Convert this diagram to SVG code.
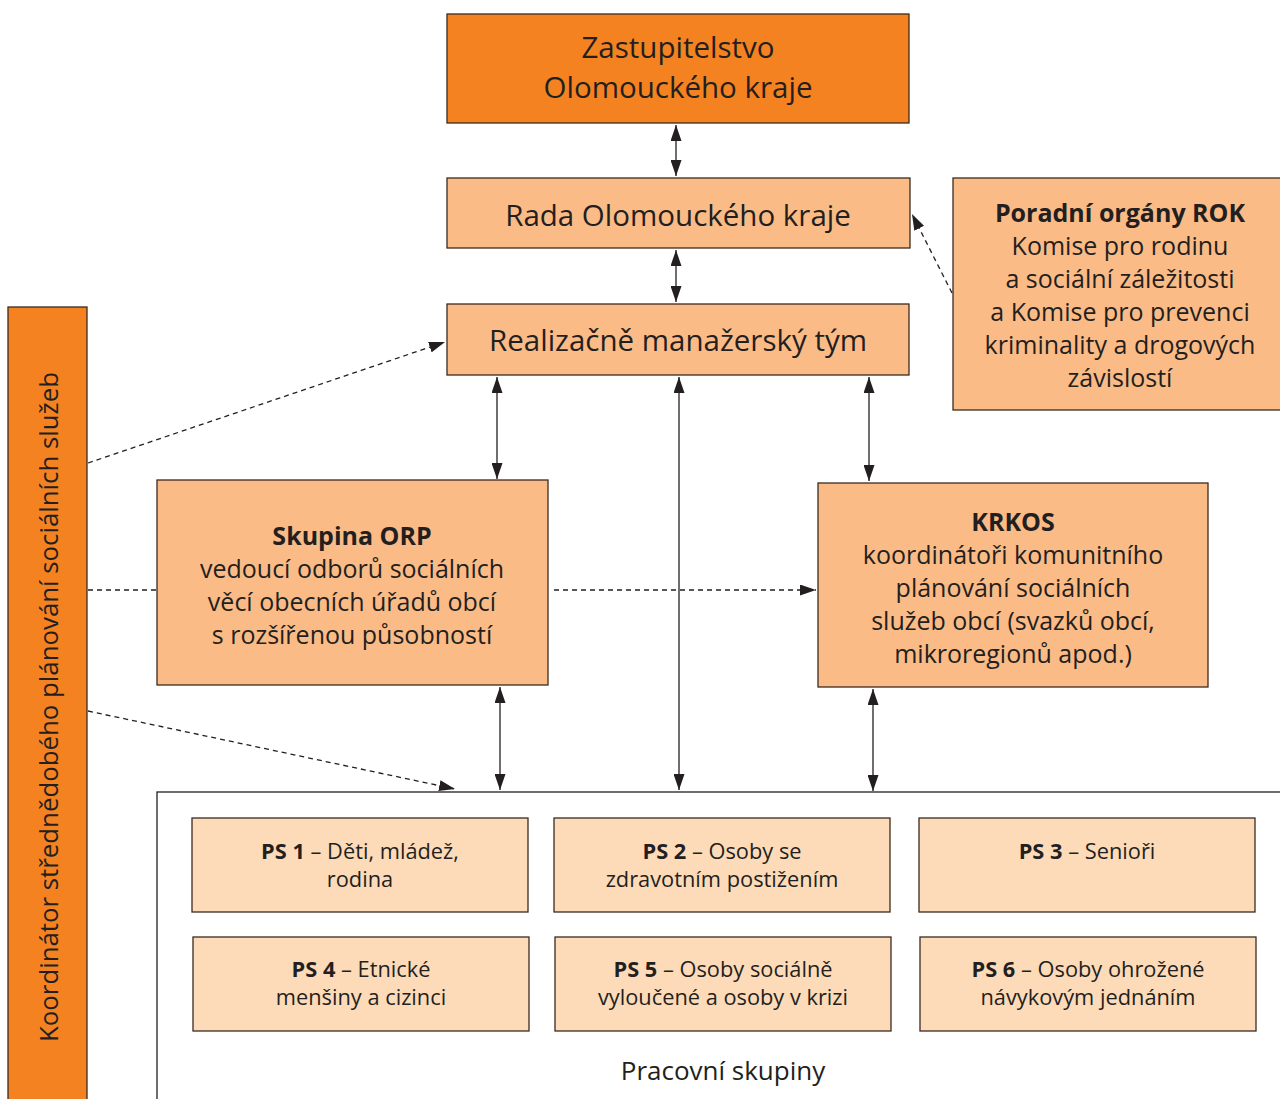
<svg xmlns="http://www.w3.org/2000/svg" width="1280" height="1099" viewBox="0 0 1280 1099">
<defs>
<marker id="ahl" viewBox="0 0 16 11" refX="16" refY="5.5" markerWidth="16" markerHeight="11" markerUnits="userSpaceOnUse" orient="auto-start-reverse">
<path d="M0,0 L16,5.5 L0,11 z" fill="#231f20"/>
</marker>
</defs>
<style>
.dark{fill:#f58220;stroke:#3b2b20;stroke-width:1.3}
.mid{fill:#fbbb86;stroke:#3b2b20;stroke-width:1.3}
.light{fill:#fddbb9;stroke:#3b2b20;stroke-width:1.3}
.frame{fill:#fff;stroke:#231f20;stroke-width:1.3}
text{font-family:"Open Sans","Liberation Sans",sans-serif;fill:#231f20;text-anchor:middle}
.big{font-size:29.5px}
.med{font-size:25px}
.side{font-size:25.8px}
.cap{font-size:26px}
.sm{font-size:21.8px}
.b{font-weight:bold}
.c{fill:none;stroke:#231f20;stroke-width:1.3}
.d{fill:none;stroke:#231f20;stroke-width:1.3;stroke-dasharray:5 4}
</style>
<g id="pracovni-skupiny">
<rect class="frame" x="157" y="792" width="1140" height="320"/>
<text class="cap" x="723" y="1080">Pracovní skupiny</text>
</g>
<g id="zastupitelstvo">
<rect class="dark" x="447" y="14" width="462" height="109"/>
<text class="big" x="678" y="58">Zastupitelstvo</text>
<text class="big" x="678" y="98">Olomouckého kraje</text>
</g>
<g id="rada">
<rect class="mid" x="447" y="178" width="463" height="70"/>
<text class="big" x="678" y="226">Rada Olomouckého kraje</text>
</g>
<g id="realizacne">
<rect class="mid" x="447" y="304" width="462" height="71"/>
<text class="big" x="678" y="351">Realizačně manažerský tým</text>
</g>
<g id="poradni">
<rect class="mid" x="953" y="178" width="340" height="232"/>
<text class="med" x="1120" y="222"><tspan class="b">Poradní orgány ROK</tspan></text>
<text class="med" x="1120" y="255">Komise pro rodinu</text>
<text class="med" x="1120" y="288">a sociální záležitosti</text>
<text class="med" x="1120" y="321">a Komise pro prevenci</text>
<text class="med" x="1120" y="354">kriminality a drogových</text>
<text class="med" x="1120" y="387">závislostí</text>
</g>
<g id="koordinator">
<rect class="dark" x="8" y="307" width="79" height="810"/>
<text class="side" transform="translate(58,707) rotate(-90)" x="0" y="0">Koordinátor střednědobého plánování sociálních služeb</text>
</g>
<g id="skupina-orp">
<rect class="mid" x="157" y="480" width="391" height="205"/>
<text class="med" x="352" y="545"><tspan class="b">Skupina ORP</tspan></text>
<text class="med" x="352" y="578">vedoucí odborů sociálních</text>
<text class="med" x="352" y="611">věcí obecních úřadů obcí</text>
<text class="med" x="352" y="644">s rozšířenou působností</text>
</g>
<g id="krkos">
<rect class="mid" x="818" y="483" width="390" height="204"/>
<text class="med" x="1013" y="531"><tspan class="b">KRKOS</tspan></text>
<text class="med" x="1013" y="564">koordinátoři komunitního</text>
<text class="med" x="1013" y="597">plánování sociálních</text>
<text class="med" x="1013" y="630">služeb obcí (svazků obcí,</text>
<text class="med" x="1013" y="663">mikroregionů apod.)</text>
</g>
<g id="ps1">
<rect class="light" x="192" y="818" width="336" height="94"/>
<text class="sm" x="360" y="859"><tspan class="b">PS 1</tspan> – Děti, mládež,</text>
<text class="sm" x="360" y="887">rodina</text>
</g>
<g id="ps2">
<rect class="light" x="554" y="818" width="336" height="94"/>
<text class="sm" x="722" y="859"><tspan class="b">PS 2</tspan> – Osoby se</text>
<text class="sm" x="722" y="887">zdravotním postižením</text>
</g>
<g id="ps3">
<rect class="light" x="919" y="818" width="336" height="94"/>
<text class="sm" x="1087" y="859"><tspan class="b">PS 3</tspan> – Senioři</text>
</g>
<g id="ps4">
<rect class="light" x="193" y="937" width="336" height="94"/>
<text class="sm" x="361" y="977"><tspan class="b">PS 4</tspan> – Etnické</text>
<text class="sm" x="361" y="1005">menšiny a cizinci</text>
</g>
<g id="ps5">
<rect class="light" x="555" y="937" width="336" height="94"/>
<text class="sm" x="723" y="977"><tspan class="b">PS 5</tspan> – Osoby sociálně</text>
<text class="sm" x="723" y="1005">vyloučené a osoby v krizi</text>
</g>
<g id="ps6">
<rect class="light" x="920" y="937" width="336" height="94"/>
<text class="sm" x="1088" y="977"><tspan class="b">PS 6</tspan> – Osoby ohrožené</text>
<text class="sm" x="1088" y="1005">návykovým jednáním</text>
</g>
<g id="connectors">
<line class="c" x1="676" y1="125" x2="676" y2="176" marker-start="url(#ahl)" marker-end="url(#ahl)"/>
<line class="c" x1="676" y1="250" x2="676" y2="302" marker-start="url(#ahl)" marker-end="url(#ahl)"/>
<line class="c" x1="497" y1="377" x2="497" y2="479" marker-start="url(#ahl)" marker-end="url(#ahl)"/>
<line class="c" x1="679" y1="377" x2="679" y2="790" marker-start="url(#ahl)" marker-end="url(#ahl)"/>
<line class="c" x1="869" y1="377" x2="869" y2="481" marker-start="url(#ahl)" marker-end="url(#ahl)"/>
<line class="c" x1="500" y1="687" x2="500" y2="790" marker-start="url(#ahl)" marker-end="url(#ahl)"/>
<line class="c" x1="873" y1="689" x2="873" y2="791" marker-start="url(#ahl)" marker-end="url(#ahl)"/>
<line class="d" x1="88" y1="463" x2="445" y2="342" marker-end="url(#ahl)"/>
<line class="d" x1="88" y1="590" x2="157" y2="590"/>
<line class="d" x1="554" y1="590" x2="816" y2="590" marker-end="url(#ahl)"/>
<line class="d" x1="88" y1="711" x2="455" y2="789" marker-end="url(#ahl)"/>
<line class="d" x1="952" y1="293" x2="912" y2="214" marker-end="url(#ahl)"/>
</g>
</svg>
